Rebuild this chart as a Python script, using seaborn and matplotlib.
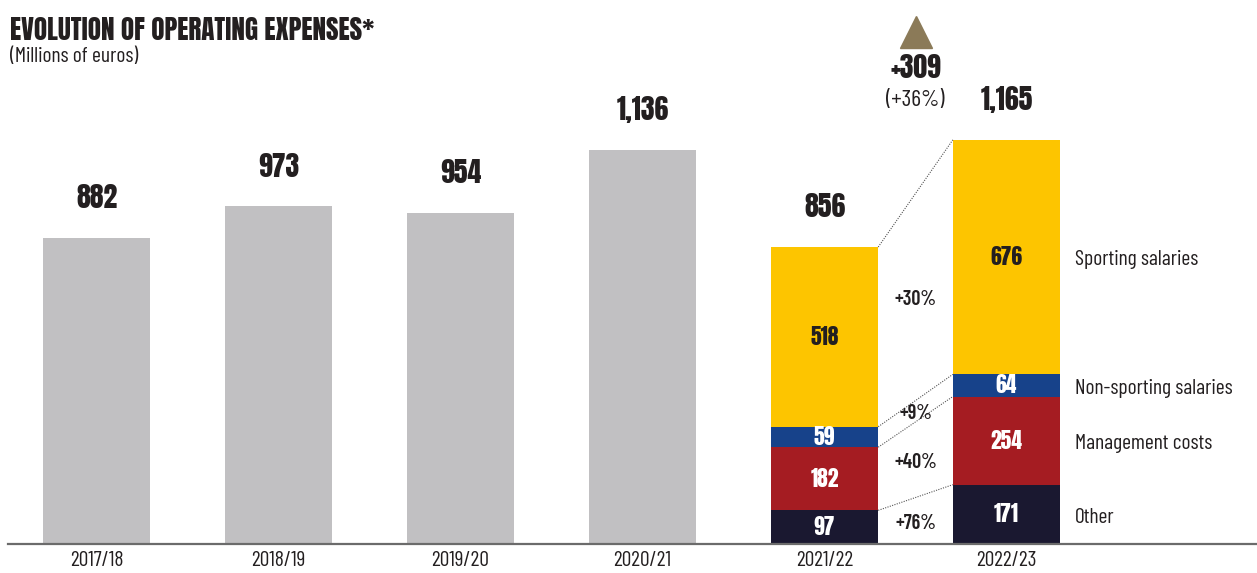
import numpy as np
import pandas as pd
import seaborn as sns
import matplotlib.pyplot as plt
import matplotlib.transforms as mtransforms

years = ['2017/18', '2018/19', '2019/20', '2020/21', '2021/22', '2022/23']
totals = [882, 973, 954, 1136, 856, 1165]

# breakdown only for the last two seasons
stack_years = ['2021/22', '2022/23']
other = [97, 171]
management = [182, 254]
non_sporting = [59, 64]
sporting = [518, 676]
growth = ['+76%', '+40%', '+9%', '+30%']
seg_names = ['Other', 'Management costs', 'Non-sporting salaries', 'Sporting salaries']

GREY = '#C1C0C2'
COLS = ['#1A1830', '#A51C22', '#17428A', '#FDC500']
TXT = '#231F20'
HEAVY = ['Anton', 'DejaVu Sans']
COND = ['Barlow Condensed', 'DejaVu Sans']

sns.set_style('white')
plt.rcParams['font.family'] = COND

fig = plt.figure(figsize=(12.57, 5.73), dpi=100)
ax = fig.add_axes([8 / 1257, 29 / 573, 1249 / 1257, 544 / 573])

grey_df = pd.DataFrame({'year': years[:4], 'value': totals[:4]})
sns.barplot(data=grey_df, x='year', y='value', order=years, color=GREY,
            width=0.59, saturation=1, linewidth=0, ax=ax)

layers = np.array([other, management, non_sporting, sporting])
cum = layers.cumsum(axis=0)
# draw from the top layer down so lower layers sit on top
for i in range(3, -1, -1):
    df = pd.DataFrame({'year': stack_years, 'value': cum[i]})
    sns.barplot(data=df, x='year', y='value', order=years, color=COLS[i],
                width=0.59, saturation=1, linewidth=0, ax=ax)

ax.set_xlim(-0.486, 6.376)
ax.set_ylim(0, 1568)
ax.set_xlabel('')
ax.set_ylabel('')
ax.set_yticks([])
ax.tick_params(axis='x', length=0, labelsize=15.5, colors=TXT, pad=5)
for s in ['top', 'right', 'left']:
    ax.spines[s].set_visible(False)
ax.spines['bottom'].set_color('#6B6B6B')
ax.spines['bottom'].set_linewidth(1.6)

# totals above the bars
for i, v in enumerate(totals):
    ax.annotate(f'{v:,}', (i, v), xytext=(0, 29), textcoords='offset points',
                ha='center', va='center', fontsize=20, family=HEAVY, color=TXT)

# segment values
x_st = [4, 5]
for j, x in enumerate(x_st):
    for i in range(4):
        mid = cum[i][j] - layers[i][j] / 2
        col = TXT if i == 3 else 'white'
        ax.text(x, mid, str(layers[i][j]), ha='center', va='center',
                fontsize=15.5, family=HEAVY, color=col)

# dotted connectors and growth labels
hw = 0.59 / 2
for i in range(4):
    ax.plot([4 + hw, 5 - hw], [cum[i][0], cum[i][1]], ls=(0, (1, 1.2)),
            lw=0.8, color='#555555')
    m0 = cum[i][0] - layers[i][0] / 2
    m1 = cum[i][1] - layers[i][1] / 2
    ax.text(4.5, (m0 + m1) / 2 - 8, growth[i], ha='center', va='center',
            fontsize=14.5, fontweight='semibold', color=TXT)

# category names on the right
for i in range(4):
    mid = cum[i][1] - layers[i][1] / 2
    ax.text(5.376, mid - 8, seg_names[i], ha='left', va='center',
            fontsize=15.5, color=TXT)

# overall change marker
tr = mtransforms.blended_transform_factory(ax.transData, ax.transAxes)
ax.plot([4.5], [0.941], marker='^', markersize=23, color='#8B7A58',
        transform=tr, clip_on=False)
ax.text(4.5, 0.875, '+309', transform=tr, ha='center', va='center',
        fontsize=20, family=HEAVY, color=TXT)
ax.text(4.5, 0.816, '(+36%)', transform=tr, ha='center', va='center',
        fontsize=17, color=TXT)

fig.text(10 / 1257, 1 - 30 / 573, 'EVOLUTION OF OPERATING EXPENSES*',
         ha='left', va='center', fontsize=19.5, family=HEAVY, color=TXT)
fig.text(10 / 1257, 1 - 57 / 573, '(Millions of euros)',
         ha='left', va='center', fontsize=15.5, color=TXT)

fig.savefig('out.png', dpi=100)
